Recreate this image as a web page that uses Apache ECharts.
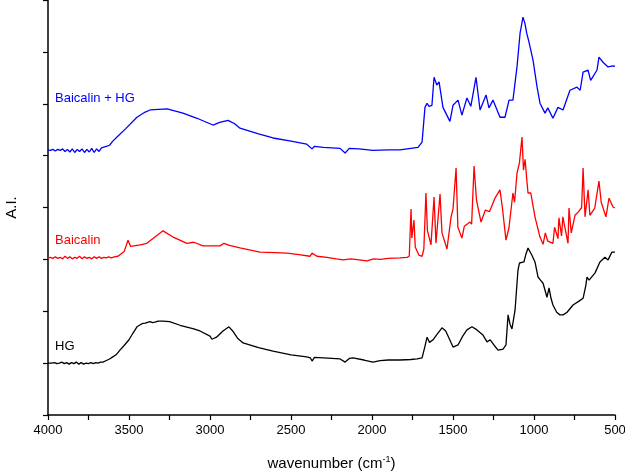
<!DOCTYPE html>
<html>
<head>
<meta charset="utf-8">
<script src="https://cdn.jsdelivr.net/npm/echarts@6/dist/echarts.min.js"></script>
<style>html,body{margin:0;padding:0;background:#fff}#c{width:625px;height:475px}</style>
</head>
<body>
<div id="c"></div>
<script>
const xTicks = [500, 1000, 1500, 2000, 2500, 3000, 3500, 4000];
const seriesNames = ['HG', 'Baicalin', 'Baicalin + HG'];

const hgData = [
[4000,1.00],[3980,1.00],[3960,1.01],[3945,0.99],[3930,1.00],[3915,1.02],[3900,0.99],[3885,1.01],[3870,0.98],[3855,1.01],[3840,0.99],[3825,1.02],[3810,0.98],[3795,1.01],[3780,0.98],[3765,1.00],[3750,0.99],[3735,1.01],[3720,0.99],[3705,1.01],[3690,1.00],[3675,1.02],[3660,1.02],[3640,1.05],[3620,1.08],[3600,1.12],[3580,1.16],[3556,1.25],[3530,1.34],[3500,1.45],[3475,1.58],[3451,1.70],[3420,1.76],[3400,1.77],[3370,1.80],[3355,1.78],[3340,1.79],[3320,1.81],[3290,1.81],[3250,1.80],[3185,1.73],[3100,1.66],[3062,1.62],[3000,1.52],[2988,1.46],[2960,1.50],[2920,1.62],[2883,1.70],[2860,1.62],[2830,1.48],[2796,1.39],[2700,1.30],[2611,1.23],[2500,1.16],[2403,1.12],[2380,1.10],[2370,1.04],[2355,1.11],[2300,1.10],[2197,1.08],[2166,1.02],[2140,1.09],[2117,1.10],[2050,1.06],[1994,1.02],[1950,1.05],[1900,1.06],[1827,1.06],[1760,1.07],[1722,1.08],[1691,1.10],[1675,1.30],[1660,1.50],[1645,1.40],[1623,1.45],[1600,1.55],[1568,1.68],[1545,1.62],[1520,1.45],[1500,1.31],[1469,1.35],[1440,1.52],[1414,1.64],[1383,1.70],[1352,1.64],[1315,1.54],[1290,1.41],[1270,1.45],[1259,1.43],[1240,1.32],[1222,1.25],[1191,1.27],[1173,1.35],[1160,1.93],[1148,1.75],[1136,1.66],[1117,2.02],[1099,2.79],[1090,2.93],[1062,2.95],[1050,3.10],[1037,3.22],[1013,3.08],[994,2.95],[975,2.66],[960,2.60],[944,2.54],[920,2.27],[907,2.45],[895,2.25],[883,2.12],[860,1.98],[840,1.93],[820,1.93],[796,1.98],[759,2.12],[720,2.20],[697,2.25],[680,2.50],[673,2.66],[660,2.60],[623,2.74],[593,2.95],[562,3.04],[543,2.99],[519,3.14],[512,3.12],[500,3.14]
];

const baicalinData = [
[4000,3.03],[3985,3.04],[3970,3.02],[3955,3.05],[3940,3.02],[3925,3.04],[3910,3.01],[3895,3.06],[3880,3.02],[3865,3.05],[3850,3.01],[3835,3.04],[3820,3.02],[3805,3.06],[3790,3.01],[3775,3.05],[3760,3.02],[3745,3.04],[3730,3.01],[3715,3.05],[3700,3.02],[3685,3.05],[3670,3.02],[3655,3.04],[3640,3.03],[3625,3.05],[3610,3.03],[3590,3.05],[3568,3.06],[3530,3.15],[3506,3.37],[3490,3.25],[3470,3.26],[3430,3.28],[3390,3.31],[3340,3.43],[3290,3.55],[3228,3.43],[3142,3.31],[3100,3.33],[3043,3.26],[2938,3.26],[2914,3.31],[2880,3.27],[2815,3.22],[2691,3.14],[2600,3.13],[2525,3.12],[2450,3.09],[2383,3.06],[2370,3.12],[2340,3.06],[2278,3.04],[2220,3.01],[2179,2.99],[2130,3.01],[2080,2.99],[2031,2.97],[1990,3.01],[1950,3.00],[1900,3.02],[1827,3.03],[1784,3.04],[1770,3.06],[1759,3.97],[1754,3.41],[1741,3.76],[1733,3.24],[1710,3.08],[1691,3.06],[1680,3.20],[1667,4.28],[1658,3.56],[1636,3.28],[1617,4.20],[1605,3.31],[1580,4.26],[1568,3.51],[1537,3.20],[1512,3.82],[1500,3.97],[1481,4.76],[1470,3.62],[1445,3.41],[1430,3.64],[1395,3.72],[1385,3.68],[1370,4.80],[1355,4.14],[1327,3.72],[1300,3.95],[1275,3.92],[1241,4.18],[1210,4.34],[1195,3.99],[1173,3.37],[1155,3.60],[1130,4.28],[1120,4.10],[1105,4.66],[1090,4.86],[1074,5.36],[1065,4.72],[1055,4.93],[1045,4.55],[1037,4.28],[1020,4.28],[994,3.82],[963,3.43],[944,3.29],[930,3.51],[915,3.35],[883,3.31],[873,3.62],[852,3.40],[846,3.80],[830,3.45],[822,3.82],[790,3.31],[784,3.99],[770,3.51],[747,3.85],[725,3.92],[706,4.00],[697,4.76],[685,3.82],[666,4.34],[655,3.85],[625,3.99],[599,4.51],[585,4.10],[556,3.82],[537,4.18],[512,4.01],[500,3.99]
];

const mixData = [
[4000,5.11],[3985,5.10],[3970,5.12],[3955,5.09],[3940,5.12],[3925,5.10],[3910,5.13],[3895,5.08],[3880,5.12],[3865,5.07],[3850,5.13],[3835,5.06],[3820,5.12],[3805,5.08],[3790,5.13],[3775,5.06],[3760,5.12],[3745,5.07],[3730,5.14],[3715,5.06],[3700,5.13],[3685,5.08],[3670,5.15],[3660,5.12],[3640,5.18],[3620,5.20],[3600,5.28],[3574,5.36],[3520,5.52],[3451,5.74],[3400,5.84],[3370,5.88],[3265,5.90],[3167,5.82],[3080,5.72],[2982,5.59],[2940,5.64],[2889,5.68],[2850,5.62],[2815,5.53],[2700,5.42],[2611,5.34],[2500,5.28],[2403,5.22],[2370,5.13],[2355,5.18],[2300,5.16],[2197,5.14],[2166,5.05],[2140,5.14],[2080,5.13],[1994,5.10],[1900,5.11],[1827,5.11],[1716,5.16],[1691,5.26],[1673,5.93],[1660,6.01],[1648,5.95],[1630,5.97],[1617,6.51],[1600,6.36],[1586,6.42],[1562,5.93],[1519,5.66],[1500,5.97],[1469,6.07],[1445,5.78],[1414,6.11],[1390,5.95],[1358,6.51],[1333,5.88],[1296,6.17],[1278,5.92],[1253,6.07],[1210,5.74],[1179,5.74],[1154,6.07],[1130,6.07],[1105,6.71],[1086,7.36],[1068,7.67],[1056,7.55],[1045,7.36],[1031,7.19],[1006,6.84],[981,6.32],[963,6.01],[932,5.82],[915,5.92],[883,5.72],[852,5.93],[821,5.88],[778,6.26],[735,6.32],[715,6.26],[697,6.61],[667,6.65],[650,6.45],[611,6.65],[599,6.90],[574,6.80],[543,6.71],[512,6.73],[500,6.72]
];

const chart = echarts.init(document.getElementById('c'), null, {renderer: 'canvas'});
const font = 'Liberation Sans, Arial, sans-serif';
function mk(name, data, color) {
  return {name, type: 'line', data, showSymbol: false, symbol: 'none',
    lineStyle: {color, width: 1.3}, itemStyle: {color}, animation: false};
}
chart.setOption({
  animation: false,
  grid: {left: 48, right: 10, top: 0, bottom: 60, containLabel: false, outerBoundsMode: 'none'},
  xAxis: {
    type: 'value', min: 500, max: 4000, interval: 250, inverse: true,
    name: '{a|wavenumber (cm}{s|-1}{a|)}',
    nameLocation: 'middle', nameGap: 40,
    nameTextStyle: {rich: {
      a: {fontFamily: font, fontSize: 15, color: '#000'},
      s: {fontFamily: font, fontSize: 9, color: '#000', padding: [0, 0, 9, 0]}
    }},
    axisLine: {onZero: false, lineStyle: {color: '#000', width: 1.5}},
    axisTick: {show: true, length: 5, inside: false, lineStyle: {color: '#000', width: 1.2}},
    axisLabel: {fontFamily: font, fontSize: 13, color: '#000', margin: 9,
      formatter: v => (xTicks.indexOf(v) >= 0 ? String(v) : '')},
    splitLine: {show: false}
  },
  yAxis: {
    type: 'value', min: 0, max: 8, interval: 1,
    name: 'A.I.', nameLocation: 'middle', nameGap: 29,
    nameTextStyle: {fontFamily: font, fontSize: 15, color: '#000'},
    axisLine: {show: true, lineStyle: {color: '#000', width: 1.5}},
    axisTick: {show: true, length: 5, lineStyle: {color: '#000', width: 1.2}},
    axisLabel: {show: false},
    splitLine: {show: false}
  },
  series: [
    mk(seriesNames[0], hgData, '#000000'),
    mk(seriesNames[1], baicalinData, '#ff0000'),
    mk(seriesNames[2], mixData, '#0000ff')
  ],
  graphic: [
    {type: 'text', left: 55, top: 92, style: {text: seriesNames[2], fill: '#0000ff', font: '13px ' + font}},
    {type: 'text', left: 55, top: 234, style: {text: seriesNames[1], fill: '#ff0000', font: '13px ' + font}},
    {type: 'text', left: 55, top: 340, style: {text: seriesNames[0], fill: '#000000', font: '13px ' + font}}
  ]
});
</script>
</body>
</html>
